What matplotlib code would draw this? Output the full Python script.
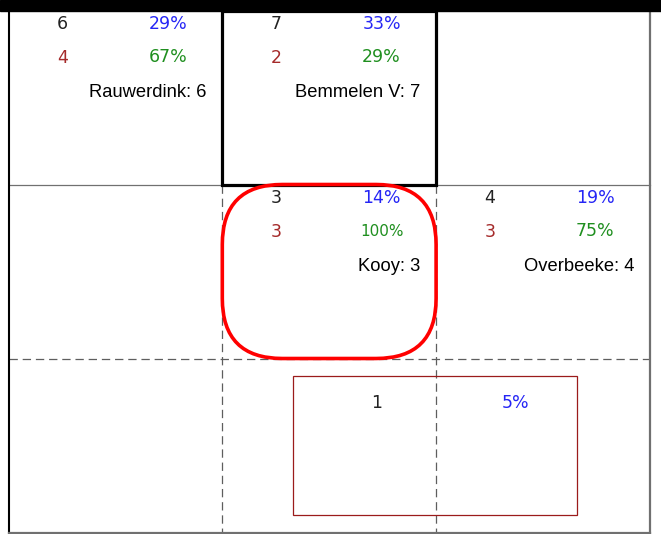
import matplotlib.pyplot as plt
from matplotlib.patches import Rectangle, FancyBboxPatch

plt.rcParams['lines.scale_dashes'] = False

# cell data
names = ["Rauwerdink", "Bemmelen V", "Kooy", "Overbeeke"]
rows = [0, 0, 1, 1]
cols = [0, 1, 1, 2]
counts = [6, 7, 3, 4]
pct_blue = [29, 33, 14, 19]
counts2 = [4, 2, 3, 3]
pct_green = [67, 29, 100, 75]

# extra box in bottom row
extra_count = 1
extra_pct = 5

n_rows, n_cols = 3, 3
cw, ch = 213.8, 174   # cell size in px

blue = '#2525f5'
green = '#1f8f1f'
dred = '#a52a2a'
grid_c = '#5e5e5e'
num_font = 'DejaVu Sans'
lab_font = 'Liberation Sans'
num_fs = 12.5

fig = plt.figure(figsize=(6.61, 5.34), dpi=100)
ax = fig.add_axes([0, 0, 1, 1])
ax.set_xlim(-8.5, 652.5)
ax.set_ylim(523.5, -10.5)
ax.axis('off')

W = n_cols * cw
H = n_rows * ch

# frame
ax.add_patch(Rectangle((-8.5, -10.5), 661, 11, color='black', zorder=5))
ax.plot([0, 0], [0, H], color='black', lw=1.5, zorder=3)
ax.plot([W, W], [0, H], color='#707070', lw=1.6, zorder=3)
ax.plot([0, W], [H, H], color='#707070', lw=1.6, zorder=3)
ax.plot([0, W], [ch, ch], color='#707070', lw=0.9, zorder=2)
ax.plot([0, W], [2 * ch, 2 * ch], color=grid_c, lw=0.9, ls=(0, (6, 3.5)), zorder=2)
for c in range(1, n_cols):
    ax.plot([c * cw, c * cw], [ch, H], color=grid_c, lw=0.9, ls=(0, (6, 3.5)), zorder=2)

# highlighted cells
ax.add_patch(Rectangle((1 * cw, 0), cw, ch, fill=False, ec='black', lw=2.3, zorder=4))
ax.add_patch(FancyBboxPatch((1 * cw, 1 * ch), cw, ch,
                            boxstyle="round,pad=0,rounding_size=60",
                            fill=False, ec='#ff0000', lw=2.6, zorder=4))

for r, c, n, pb, n2, pg, nm in zip(rows, cols, counts, pct_blue, counts2, pct_green, names):
    x0, y0 = c * cw, r * ch
    ax.text(x0 + 0.252 * cw, y0 + 13.5, str(n), color='#222222', fontsize=num_fs,
            family=num_font, ha='center', va='center', zorder=6)
    ax.text(x0 + 0.745 * cw, y0 + 13.5, f"{pb}%", color=blue, fontsize=num_fs,
            family=num_font, ha='center', va='center', zorder=6)
    ax.text(x0 + 0.252 * cw, y0 + 47.5, str(n2), color=dred, fontsize=num_fs,
            family=num_font, ha='center', va='center', zorder=6)
    fs = 11 if pg >= 100 else num_fs
    ax.text(x0 + 0.745 * cw, y0 + 47, f"{pg}%", color=green, fontsize=fs,
            family=num_font, ha='center', va='center', zorder=6)
    ax.text(x0 + cw - 15.5, y0 + 82, f"{nm}: {n}", color='black', fontsize=13.2,
            family=lab_font, ha='right', va='center', zorder=6)

# bottom box
bx, by, bw, bh = 1.33 * cw, 2.1 * ch, 1.33 * cw, 0.8 * ch
ax.add_patch(Rectangle((bx, by), bw, bh, fill=False, ec='#9b1b1b', lw=0.9, zorder=4))
ax.text(bx + 0.293 * bw, by + 27, str(extra_count), color='#222222', fontsize=num_fs,
        family=num_font, ha='center', va='center', zorder=6)
ax.text(bx + 0.782 * bw, by + 27, f"{extra_pct}%", color=blue, fontsize=num_fs,
        family=num_font, ha='center', va='center', zorder=6)

fig.savefig('out.png', dpi=100)
